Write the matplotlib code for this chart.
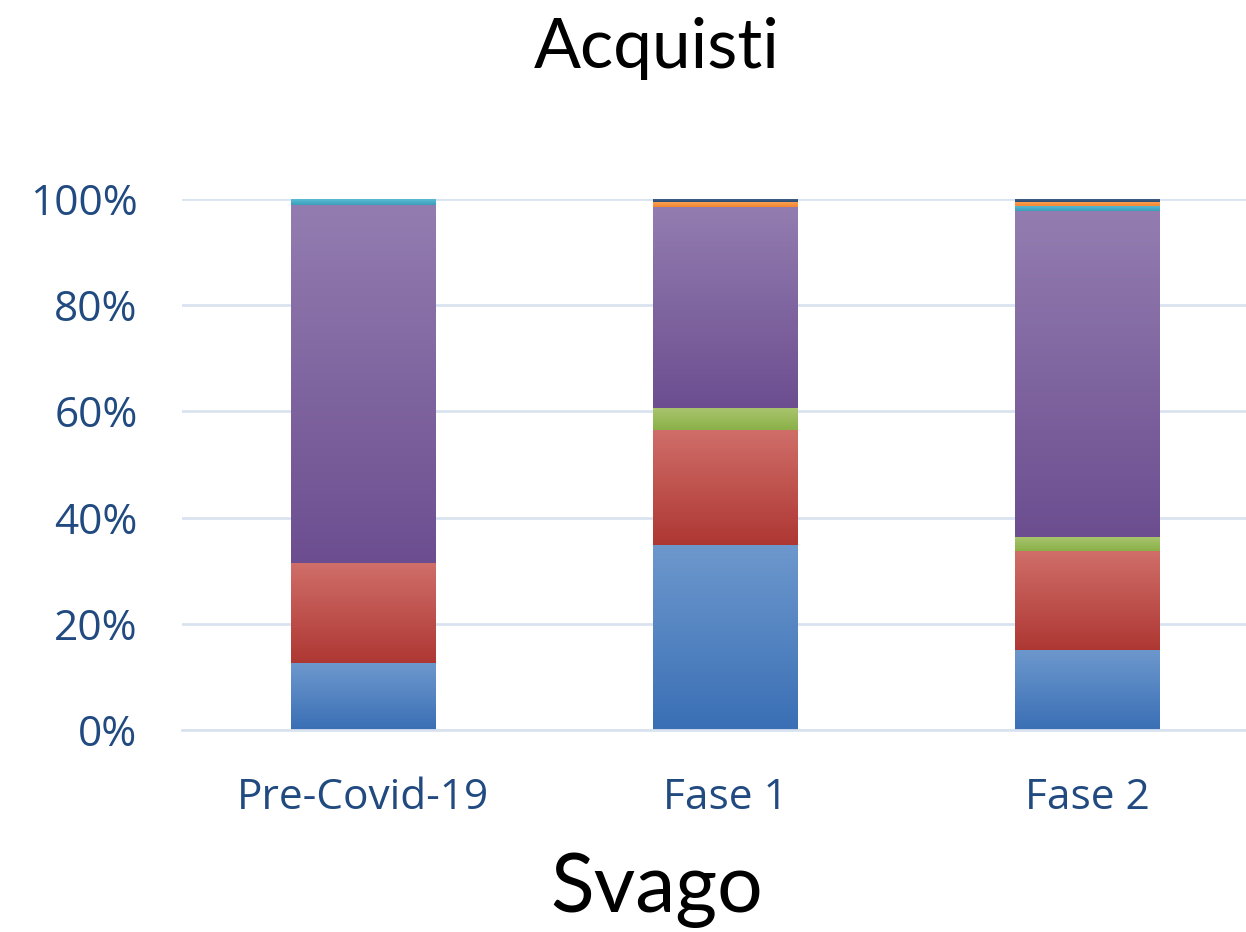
import numpy as np
import matplotlib.pyplot as plt
from matplotlib.colors import LinearSegmentedColormap
from matplotlib.ticker import FuncFormatter

categories = ['Pre-Covid-19', 'Fase 1', 'Fase 2']

# share of each segment (%), bottom to top
blue = [12.6, 34.8, 15.1]
red = [18.8, 21.7, 18.6]
green = [0.0, 4.2, 2.7]
purple = [67.5, 37.7, 61.3]
teal = [1.1, 0.0, 1.0]
orange = [0.0, 1.1, 0.8]
navy = [0.0, 0.5, 0.5]

series = [blue, red, green, purple, teal, orange, navy]
# (top colour, bottom colour) for the gradient fill
shades = [('#6d98cd', '#3a6fb5'),
          ('#d06e69', '#ae3733'),
          ('#aac66f', '#8ab048'),
          ('#937db0', '#6c4e90'),
          ('#5bbcd4', '#3a9fbb'),
          ('#fba45a', '#f3872f'),
          ('#3f5f87', '#2a4a70')]

fig = plt.figure(figsize=(12.46, 9.32), dpi=100)
ax = fig.add_axes([182 / 1246, 1 - 730 / 932, 1 - 182 / 1246, 531 / 932])

x = np.arange(len(categories))
width = 0.40
grad = np.linspace(1, 0, 256).reshape(-1, 1)
bottom = np.zeros(len(categories))
for vals, (c_top, c_bot) in zip(series, shades):
    v = np.array(vals) / 100.0
    bars = ax.bar(x, v, width, bottom=bottom, color='none', edgecolor='none', zorder=3)
    cmap = LinearSegmentedColormap.from_list('g', [c_bot, c_top])
    for b, val, bt in zip(bars, v, bottom):
        if val <= 0:
            continue
        xl = b.get_x()
        im = ax.imshow(grad, cmap=cmap, aspect='auto', interpolation='bicubic',
                       extent=(xl, xl + width, bt, bt + val), zorder=3, vmin=0, vmax=1)
        im.set_clip_path(b)
    bottom = bottom + v

ax.set_xlim(-0.5, (1246 - 364) / 362)
ax.set_ylim(0, 1.0)
ax.set_yticks(np.arange(0, 1.01, 0.2))
ax.yaxis.set_major_formatter(FuncFormatter(lambda v, p: f'{v * 100:.0f}%'))
ax.set_xticks(x)
ax.set_xticklabels(categories)

ax.grid(axis='y', color='#d9e3f0', linewidth=2, zorder=0)
ax.set_axisbelow(True)
for s in ['top', 'right', 'left']:
    ax.spines[s].set_visible(False)
ax.spines['bottom'].set_color('#d9e3f0')
ax.spines['bottom'].set_linewidth(2)
ax.spines['bottom'].set_zorder(4)
ax.tick_params(length=0, labelcolor='#214a80', labelsize=30.5)
ax.tick_params(axis='x', pad=34)
ax.tick_params(axis='y', pad=32)
for lab in ax.get_xticklabels() + ax.get_yticklabels():
    lab.set_fontfamily('Open Sans')

fig.text(0.527, 1 - 68 / 932, 'Acquisti', ha='center', va='baseline',
         fontsize=50, family='Lato', color='black')
fig.text(0.527, 1 - 912 / 932, 'Svago', ha='center', va='baseline',
         fontsize=58, family='Lato', color='black')

fig.savefig('out.png', dpi=100)
